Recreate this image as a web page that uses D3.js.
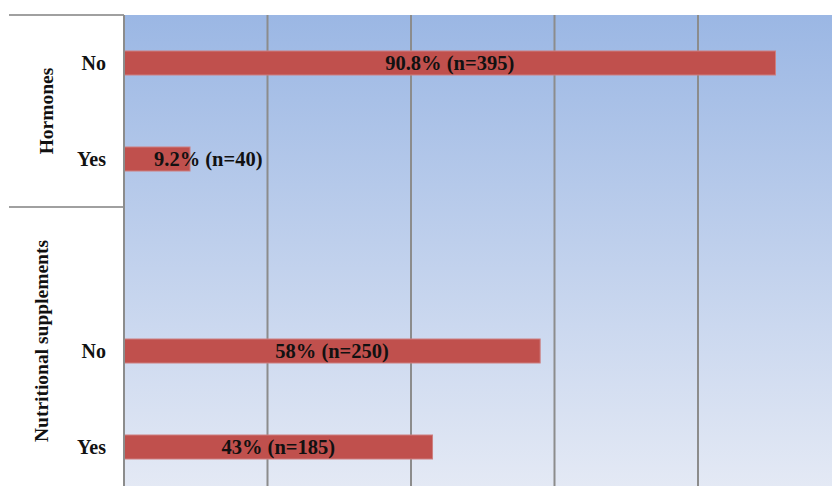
<!DOCTYPE html>
<html>
<head>
<meta charset="utf-8">
<script src="https://cdn.jsdelivr.net/npm/d3@7"></script>
<style>
  body { margin: 0; background: #fff; }
  svg { display: block; }
</style>
</head>
<body>
<svg id="chart" width="832" height="486"></svg>
<script>
// rows, top to bottom; "gap" is the blank spacer row between groups
var rows = ['H-No', 'H-Yes', 'gap', 'N-No', 'N-Yes'];
var rowLabels = ['No', 'Yes', '', 'No', 'Yes'];
var groups = ['Hormones', 'Nutritional supplements'];
var groupRows = [['H-No', 'H-Yes'], ['gap', 'N-No', 'N-Yes']];

var barRows = ['H-No', 'H-Yes', 'N-No', 'N-Yes'];
var percents = [90.8, 9.2, 58, 43];
var barLabels = ['90.8% (n=395)', '9.2% (n=40)', '58% (n=250)', '43% (n=185)'];

var gridTicks = [0, 20, 40, 60, 80];

var svg = d3.select('#chart');
var plotL = 124, plotT = 15, plotR = 841.5, plotB = 495;

var x = d3.scaleLinear().domain([0, 100]).range([plotL, plotR]);
var y = d3.scaleBand().domain(rows).range([plotT, plotB]).paddingInner(0).paddingOuter(0);

var defs = svg.append('defs');
var grad = defs.append('linearGradient')
    .attr('id', 'bg')
    .attr('x1', 0).attr('y1', 0)
    .attr('x2', 0).attr('y2', 1);
grad.append('stop').attr('offset', '0%').attr('stop-color', '#9bb7e4');
grad.append('stop').attr('offset', '100%').attr('stop-color', '#e5eaf5');

svg.append('rect')
    .attr('x', plotL)
    .attr('y', plotT)
    .attr('width', plotR - plotL)
    .attr('height', plotB - plotT)
    .style('fill', 'url(#bg)');

// vertical gridlines
svg.selectAll('.grid')
    .data(gridTicks)
    .enter().append('line')
    .attr('x1', d => x(d))
    .attr('x2', d => x(d))
    .attr('y1', plotT)
    .attr('y2', plotB)
    .style('stroke', '#8c8c8c')
    .style('stroke-width', 2);

// category axis frame lines
var boundaries = [plotT, y(groupRows[1][0])];
svg.selectAll('.sep')
    .data(boundaries)
    .enter().append('line')
    .attr('x1', 9)
    .attr('x2', plotL)
    .attr('y1', d => d)
    .attr('y2', d => d)
    .style('stroke', '#a0a0a0')
    .style('stroke-width', 2);

// bars
var barH = y.bandwidth() * 0.25;
svg.selectAll('.bar')
    .data(barRows)
    .enter().append('rect')
    .attr('x', x(0))
    .attr('y', d => y(d) + (y.bandwidth() - barH) / 2)
    .attr('width', (d, i) => x(percents[i]) - x(0))
    .attr('height', barH)
    .style('fill', '#c0504d')
    .style('stroke', '#cd7f80')
    .style('stroke-width', 1);

// bar value labels
svg.selectAll('.val')
    .data(barRows)
    .enter().append('text')
    .attr('x', (d, i) => i === 1 ? x(0) + 30 : (x(0) + x(percents[i])) / 2)
    .attr('y', d => y(d) + y.bandwidth() / 2)
    .attr('dy', '0.35em')
    .attr('text-anchor', (d, i) => i === 1 ? 'start' : 'middle')
    .style('font-family', '"Liberation Serif", "Times New Roman", serif')
    .style('font-weight', 'bold')
    .style('font-size', '20.5px')
    .style('fill', '#111')
    .text((d, i) => barLabels[i]);

// category labels
svg.selectAll('.cat')
    .data(rows)
    .enter().append('text')
    .attr('x', 106)
    .attr('y', d => y(d) + y.bandwidth() / 2)
    .attr('dy', '0.35em')
    .attr('text-anchor', 'end')
    .style('font-family', '"Liberation Serif", "Times New Roman", serif')
    .style('font-weight', 'bold')
    .style('font-size', '20px')
    .style('fill', '#111')
    .text((d, i) => rowLabels[i]);

// group labels, rotated
var groupCenters = [111, 341];
var groupX = [53, 48];
groups.forEach(function(g, i) {
  svg.append('text')
      .attr('transform', 'translate(' + groupX[i] + ',' + groupCenters[i] + ') rotate(-90)')
      .attr('text-anchor', 'middle')
      .style('font-family', '"Liberation Serif", "Times New Roman", serif')
      .style('font-weight', 'bold')
      .style('font-size', '19.5px')
      .style('fill', '#111')
      .text(g);
});

// value axis line at zero
svg.append('line')
    .attr('x1', x(0))
    .attr('x2', x(0))
    .attr('y1', plotT)
    .attr('y2', plotB)
    .style('stroke', '#8c8c8c')
    .style('stroke-width', 2);
</script>
</body>
</html>
